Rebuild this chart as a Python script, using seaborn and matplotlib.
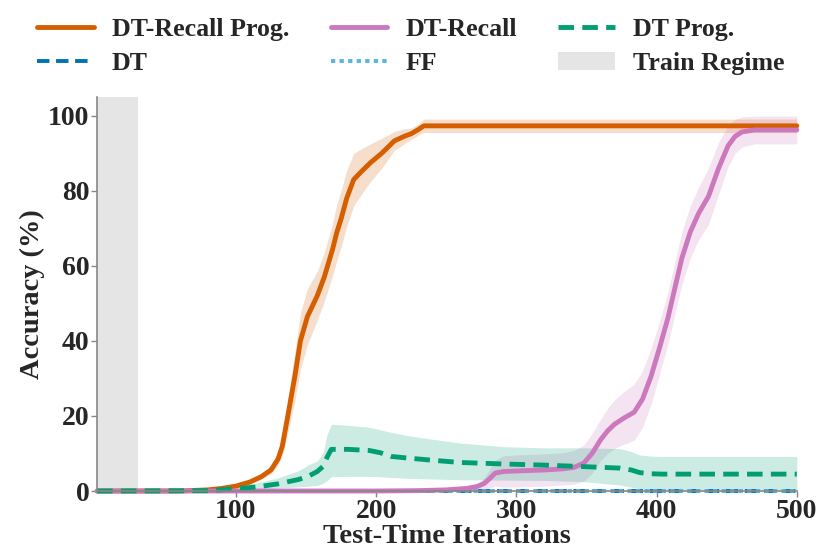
import numpy as np
import pandas as pd
import matplotlib
matplotlib.use("Agg")
import matplotlib.pyplot as plt
import seaborn as sns
from matplotlib.patches import Patch

# ---------------- data ----------------
# DT-Recall Prog.
recall_prog_iters = [1, 60, 80, 90, 100, 110, 118, 125, 130, 133, 137, 142, 146, 151, 158, 163, 169, 172,
                     175, 179, 184, 190, 196, 204, 213, 220, 225, 230, 234, 500]
recall_prog_mean = [0, 0, 0.3, 0.7, 1.3, 2.4, 3.8, 5.6, 8.5, 11.8, 20, 30.5, 40, 46.5, 52, 57, 64.5, 69,
                    72.5, 78, 83, 85.3, 87.5, 90, 93.3, 94.5, 95.2, 96.3, 97.3, 97.3]
recall_prog_std = [0, 0, 0.1, 0.2, 0.3, 0.5, 0.7, 1, 1.5, 2.5, 4.5, 6.5, 7.5, 7.5, 6.5, 6.5, 7, 7.5,
                   7.5, 7.5, 7, 6, 5, 4, 2.5, 2, 1.5, 1.5, 1.8, 1.8]

# DT-Recall
recall_iters = [1, 200, 230, 250, 265, 272, 277, 281, 285, 291, 304, 320, 333, 341, 348, 354, 360, 365,
                370, 377, 384, 390, 396, 402, 408, 413, 418, 424, 430, 437, 444, 451, 456, 461, 470, 500]
recall_mean = [0, 0, 0.1, 0.3, 0.7, 1.2, 2, 3.3, 4.8, 5.2, 5.4, 5.6, 5.9, 6.3, 7.4, 10, 13.6, 16,
               17.8, 19.5, 21, 24.5, 30.5, 38, 46, 54, 62, 69, 74, 78.5, 85.8, 92, 94.5, 95.7, 96.2, 96.2]
recall_std = [0, 0, 0.1, 0.3, 0.5, 0.8, 1.5, 2.5, 3.5, 4.2, 4.3, 4.3, 4.3, 4.5, 4.8, 5.3, 5.5, 6,
              6.5, 7, 7.5, 7.5, 7.5, 7, 7, 7, 7, 7, 7, 7.5, 7, 5.5, 4.5, 4, 3.7, 3.7]

# DT Prog.
prog_iters = [1, 80, 100, 115, 130, 145, 152, 158, 162, 165, 168, 180, 195, 203, 211, 222, 240, 260,
              291, 320, 348, 374, 382, 388, 396, 404, 500]
prog_mean = [0, 0.1, 0.6, 1.1, 1.9, 3.1, 4, 5.2, 6.5, 9, 11.1, 11.1, 10.8, 10.2, 9.2, 8.8, 8.2, 7.6,
             7.2, 6.9, 6.5, 6.1, 5.6, 4.9, 4.6, 4.5, 4.5]
prog_low = [0, 0, 0.1, 0.4, 0.8, 1.1, 1.3, 1.5, 2, 2.8, 3.8, 3.9, 3.9, 3.8, 3.6, 3.4, 3.2, 3,
            2.9, 2.8, 2.5, 1.6, 1, 0.6, 0.4, 0.3, 0.3]
prog_high = [0, 0.3, 1.2, 2.2, 3.5, 5.5, 7, 8, 10, 15, 17.8, 17.5, 17, 16.3, 15.6, 14.8, 13.8, 12.8,
             11.8, 11.5, 11.5, 11.3, 10.5, 9.6, 9.3, 9.2, 9.2]

# DT and FF
dt_iters = [1, 100, 200, 300, 400, 500]
dt_mean = [0, 0, 0, 0, 0, 0]
ff_iters = [1, 100, 200, 300, 400, 500]
ff_mean = [0, 0, 0, 0, 0, 0]

train_regime = [1, 30]

x_ticks = [100, 200, 300, 400, 500]
y_ticks = [0, 20, 40, 60, 80, 100]

labels = ["DT-Recall Prog.", "DT-Recall", "DT Prog.", "DT", "FF", "Train Regime"]

# ---------------- style ----------------
sns.set_theme(style="ticks")
plt.rcParams["font.family"] = ["Liberation Serif", "DejaVu Serif"]
plt.rcParams["font.weight"] = "bold"
plt.rcParams["axes.labelweight"] = "bold"

pal = sns.color_palette("colorblind")
c_orange = pal[3]
c_pink = pal[4]
c_green = pal[2]
c_dt = pal[0]
c_ff = pal[9]

fig = plt.figure(figsize=(8.3, 5.54), dpi=100)
ax = fig.add_axes([0.117, 0.1137, 0.960 - 0.117, 0.825 - 0.1137])

ax.axvspan(train_regime[0], train_regime[1], color="gray", alpha=0.2, lw=0, zorder=0)

df_ro = pd.DataFrame({"it": recall_prog_iters, "m": recall_prog_mean, "s": recall_prog_std})
df_r = pd.DataFrame({"it": recall_iters, "m": recall_mean, "s": recall_std})
df_p = pd.DataFrame({"it": prog_iters, "m": prog_mean, "lo": prog_low, "hi": prog_high})
df_dt = pd.DataFrame({"it": dt_iters, "m": dt_mean})
df_ff = pd.DataFrame({"it": ff_iters, "m": ff_mean})

ax.fill_between(df_ro["it"], df_ro["m"] - df_ro["s"], df_ro["m"] + df_ro["s"],
                color=c_orange, alpha=0.2, lw=0)
ax.fill_between(df_r["it"], np.clip(df_r["m"] - df_r["s"], 0, None), df_r["m"] + df_r["s"],
                color=c_pink, alpha=0.2, lw=0)
ax.fill_between(df_p["it"], df_p["lo"], df_p["hi"], color=c_green, alpha=0.2, lw=0)

sns.lineplot(data=df_dt, x="it", y="m", ax=ax, color=c_dt, lw=2.8,
             linestyle=(0, (3.2, 1.7)), clip_on=False)
sns.lineplot(data=df_ff, x="it", y="m", ax=ax, color=c_ff, lw=2.8,
             linestyle=(0, (1.1, 1.1)), clip_on=False)
sns.lineplot(data=df_ro, x="it", y="m", ax=ax, color=c_orange, lw=3.5, clip_on=False)
sns.lineplot(data=df_r, x="it", y="m", ax=ax, color=c_pink, lw=3.5, clip_on=False)
sns.lineplot(data=df_p, x="it", y="m", ax=ax, color=c_green, lw=3.5,
             linestyle=(0, (3.2, 1.7)), clip_on=False)

ax.set_xlim(1, 500)
ax.set_ylim(0, 105)
ax.set_xticks(x_ticks)
ax.set_yticks(y_ticks)
ax.set_xlabel("Test-Time Iterations", fontsize=20.5, fontweight="bold", labelpad=0)
ax.set_ylabel("Accuracy (%)", fontsize=20.5, fontweight="bold", labelpad=2)
ax.tick_params(axis="both", labelsize=20, length=4, width=1, color="#888888", pad=1.5)
for lab in ax.get_xticklabels() + ax.get_yticklabels():
    lab.set_fontweight("bold")
for side in ["top", "right"]:
    ax.spines[side].set_visible(False)
for side in ["left", "bottom"]:
    ax.spines[side].set_color("#888888")
    ax.spines[side].set_linewidth(1.2)

lines = ax.get_lines()
h_dt, h_ff, h_ro, h_r, h_p = lines[0], lines[1], lines[2], lines[3], lines[4]
h_train = Patch(facecolor="gray", alpha=0.2, edgecolor="none")
handles = [h_ro, h_dt, h_r, h_ff, h_p, h_train]
labs = [labels[0], labels[3], labels[1], labels[4], labels[2], labels[5]]
fig.legend(handles, labs, loc="upper center", bbox_to_anchor=(0.495, 1.0), ncol=3,
           frameon=False, prop={"family": ["Liberation Serif"], "weight": "bold", "size": 18.6},
           handlelength=2.2, handletextpad=0.7, columnspacing=1.6, labelspacing=0.42,
           borderaxespad=0.3)

fig.savefig("out.png", dpi=100)
